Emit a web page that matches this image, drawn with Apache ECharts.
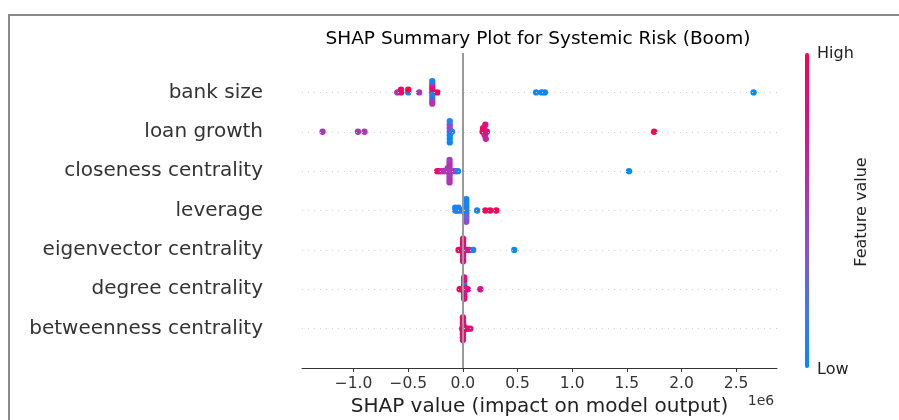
<!DOCTYPE html>
<html>
<head>
<meta charset="utf-8">
<script src="https://cdn.jsdelivr.net/npm/echarts@6/dist/echarts.min.js"></script>
<style>html,body{margin:0;padding:0;background:#fff}#c{width:899px;height:420px}</style>
</head>
<body>
<div id="c"></div>
<script>
// Features, top to bottom
const features = ["bank size","loan growth","closeness centrality","leverage","eigenvector centrality","degree centrality","betweenness centrality"];
// SHAP values (units of 1e6) and normalized feature values (0 = low, 1 = high)
const bankSizeShap  = [-0.60,-0.566,-0.566,-0.50,-0.50,-0.40,-0.28,-0.28,-0.28,-0.28,-0.28,-0.28,-0.28,-0.28,-0.28,-0.234,0.67,0.72,0.75,2.66];
const bankSizeFeat  = [0.55,0.95,0.9,0.05,1.0,0.55,0.6,0.8,0.1,0.85,0.05,0.6,0.5,0.05,0.55,0.95,0.05,0.05,0.0,0.0];
const loanGrowthShap = [-1.284,-0.96,-0.90,-0.12,-0.12,-0.12,-0.12,-0.12,-0.12,-0.12,-0.10,0.18,0.185,0.19,0.195,0.20,0.205,0.21,0.22,1.75];
const loanGrowthFeat = [0.55,0.55,0.55,0.1,0.45,0.05,0.4,0.0,0.1,0.05,0.05,1.0,0.95,0.85,0.9,0.7,0.8,0.65,0.8,1.0];
const closenessShap = [-0.235,-0.215,-0.195,-0.175,-0.155,-0.14,-0.122,-0.122,-0.122,-0.122,-0.122,-0.122,-0.122,-0.122,-0.122,-0.10,-0.08,-0.06,-0.045,1.52];
const closenessFeat = [1.0,0.8,0.6,0.55,0.5,0.55,0.55,0.5,0.6,0.55,0.5,0.6,0.55,0.5,0.55,0.5,0.55,0.45,0.05,0.0];
const leverageShap = [-0.07,-0.07,-0.055,-0.04,-0.04,-0.02,0.0,0.031,0.031,0.031,0.031,0.031,0.031,0.031,0.031,0.031,0.13,0.205,0.25,0.306];
const leverageFeat = [0.05,0.0,0.1,0.05,0.1,0.05,0.05,0.05,0.1,0.0,0.05,0.35,0.1,0.3,0.05,0.4,0.05,1.0,0.95,1.0];
const eigenvectorShap = [-0.04,-0.03,-0.02,-0.01,0.002,0.002,0.002,0.002,0.002,0.002,0.002,0.002,0.002,0.008,0.015,0.03,0.045,0.06,0.095,0.47];
const eigenvectorFeat = [1.0,0.95,0.9,0.85,0.85,0.8,0.9,0.85,0.8,0.9,0.75,0.85,0.8,0.85,0.8,0.8,0.75,0.7,0.05,0.0];
const degreeShap = [-0.03,-0.01,0.0,0.005,0.012,0.012,0.012,0.012,0.012,0.012,0.012,0.012,0.012,0.012,0.018,0.022,0.028,0.035,0.045,0.16];
const degreeFeat = [1.0,0.9,0.85,0.9,0.85,0.05,0.85,0.9,0.8,0.05,0.85,0.9,0.85,0.8,0.05,0.1,0.85,0.8,0.8,0.8];
const betweennessShap = [-0.006,0.0,0.0,0.0,0.0,0.0,0.0,0.0,0.0,0.0,0.002,0.002,0.002,0.002,0.006,0.006,0.012,0.03,0.045,0.068];
const betweennessFeat = [1.0,0.85,0.9,0.8,0.85,0.9,0.85,0.8,0.9,0.85,0.85,0.8,0.9,0.85,0.9,0.85,0.8,0.85,0.9,0.85];
const xTicks = [-1.0,-0.5,0.0,0.5,1.0,1.5,2.0,2.5];

const shapRows = [bankSizeShap, loanGrowthShap, closenessShap, leverageShap, eigenvectorShap, degreeShap, betweennessShap];
const featRows = [bankSizeFeat, loanGrowthFeat, closenessFeat, leverageFeat, eigenvectorFeat, degreeFeat, betweennessFeat];

const X_MIN = -1.472, X_MAX = 2.874;

// shap-style beeswarm offsets
function swarm(vals){
  const N = vals.length, nbins = 100;
  const mn = Math.min(...vals), mx = Math.max(...vals);
  const quant = vals.map(v => Math.round(nbins*(v-mn)/(mx-mn+1e-8)));
  const inds = vals.map((_,i)=>i).sort((a,b)=> quant[a]-quant[b] || a-b);
  let layer = 0, last = -1; const ys = new Array(N).fill(0);
  for (const i of inds){
    if (quant[i] !== last) layer = 0;
    ys[i] = Math.ceil(layer/2) * ((layer%2)*2 - 1);
    layer++; last = quant[i];
  }
  const m = Math.max(...ys.map(y=>y+1));
  return ys.map(y => y*0.9*(0.4/m));
}

const data = [];
shapRows.forEach((vals, r) => {
  const pos = features.length - 1 - r;
  const ys = swarm(vals);
  vals.forEach((v,i) => data.push([v, pos + ys[i], featRows[r][i]]));
});

const rowLines = features.map((_, r) => [
  {coord: [X_MIN, r], lineStyle: {color: '#cfcfcf', width: 1, type: [1,5]}},
  {coord: [X_MAX, r]}
]);

const fmt = v => (v < 0 ? '\u2212' : '') + Math.abs(v).toFixed(1);
const F = 'DejaVu Sans';

const chart = echarts.init(document.getElementById('c'), null, {renderer:'canvas'});
chart.setOption({
  animation: false,
  backgroundColor: '#fff',
  textStyle: {fontFamily: F},
  title: {
    text: 'SHAP Summary Plot for Systemic Risk (Boom)',
    left: 538, top: 30, textAlign: 'center', padding: 0,
    textStyle: {fontFamily: F, fontSize: 18.5, fontWeight: 'normal', color: '#000'}
  },
  grid: {left: 302, right: 122, top: 53, bottom: 52, containLabel: false, outerBoundsMode: 'none'},
  xAxis: {
    type: 'value', min: X_MIN, max: X_MAX,
    name: 'SHAP value (impact on model output)',
    nameLocation: 'middle', nameGap: 27,
    nameTextStyle: {fontFamily: F, fontSize: 20, color: '#222'},
    axisLine: {show: true, onZero: false, lineStyle: {color: '#333', width: 1}},
    axisTick: {show: true, length: 4, lineStyle: {color: '#333'}, customValues: xTicks},
    axisLabel: {customValues: xTicks, formatter: fmt, fontFamily: F, fontSize: 15.5, color: '#333', margin: 8},
    splitLine: {show: false}
  },
  yAxis: {
    type: 'value', min: -1, max: 7,
    axisLine: {show: false, onZero: false}, axisTick: {show: false}, splitLine: {show: false},
    axisLabel: {
      customValues: [0,1,2,3,4,5,6],
      formatter: v => features[features.length - 1 - v],
      fontFamily: F, fontSize: 20, color: '#333', margin: 39
    }
  },
  visualMap: {
    type: 'continuous', min: 0, max: 1, dimension: 2, seriesIndex: 0,
    orient: 'vertical', left: 805, top: 53, padding: 0,
    itemWidth: 4, itemHeight: 315, calculable: false, hoverLink: false,
    inRange: {color: ['#008bfb','#3d78f0','#7a5adc','#a43dc0','#c8209e','#e60a78','#ff0052']}
  },
  graphic: [
    {type:'rect', shape:{x:9, y:15, width:1000, height:1000}, style:{fill:'none', stroke:'#8a8a8a', lineWidth:2}, z:-10},
    {type:'text', left: 817, top: 46, style:{text:'High', font:'16px "DejaVu Sans"', fill:'#222'}},
    {type:'text', left: 817, top: 362, style:{text:'Low', font:'16px "DejaVu Sans"', fill:'#222'}},
    {type:'text', x: 862, y: 212, rotation: Math.PI/2, style:{text:'Feature value', font:'16px "DejaVu Sans"', fill:'#222', textAlign:'center', textVerticalAlign:'middle'}},
    {type:'text', x: 761, y: 401, style:{text:'1e6', font:'14px "DejaVu Sans"', fill:'#333', textAlign:'center', textVerticalAlign:'middle'}}
  ],
  series: [
    {
      type: 'scatter', data: data, symbolSize: 6.3, z: 3,
      itemStyle: {opacity: 1}
    },
    {
      type: 'scatter', data: [], z: 1, silent: true,
      markLine: {
        silent: true, symbol: 'none', label: {show: false},
        data: [
          ...rowLines,
          [{coord: [0, -1], lineStyle: {color: '#999999', width: 2, type: 'solid'}}, {coord: [0, 7]}]
        ]
      }
    }
  ]
});
</script>
</body>
</html>
